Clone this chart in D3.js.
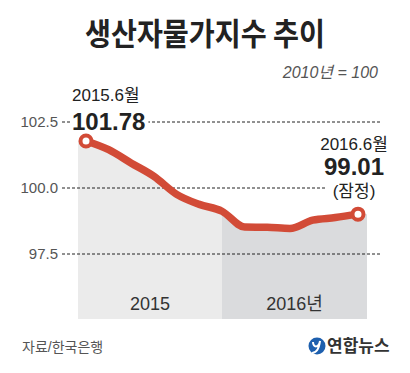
<!DOCTYPE html>
<html>
<head>
<meta charset="utf-8">
<script src="https://cdn.jsdelivr.net/npm/d3@7"></script>
<style>
  body { margin: 0; background: #fff; }
  text { font-family: "Liberation Sans", "Noto Sans CJK KR", sans-serif; }
</style>
</head>
<body>
<div id="chart"></div>
<script>
// data
var months = ["2015.6", "2015.7", "2015.8", "2015.9", "2015.10", "2015.11", "2015.12",
              "2016.1", "2016.2", "2016.3", "2016.4", "2016.5", "2016.6"];
var values = [101.78, 101.45, 100.94, 100.44, 99.76, 99.38, 99.12,
              98.52, 98.51, 98.47, 98.78, 98.88, 99.01];
var yTicks = [97.5, 100.0, 102.5];
var years = ["2015", "2016년"];

var svgWidth = 410;
var svgHeight = 373;

var svg = d3.select("#chart")
  .append("svg")
  .attr("width", svgWidth)
  .attr("height", svgHeight);

var panelLeft = 78, panelRight = 367, panelBottom = 319;

var xScale = d3.scaleLinear()
  .domain([0, months.length - 1])
  .range([86, 358]);

var yScale = d3.scaleLinear()
  .domain([97.5, 102.5])
  .range([254, 122]);

var splitX = xScale(6);

// title
svg.append("text")
  .attr("x", 205)
  .attr("y", 45)
  .attr("text-anchor", "middle")
  .attr("font-size", 31)
  .attr("font-weight", "bold")
  .attr("fill", "#222")
  .attr("textLength", 240)
  .attr("lengthAdjust", "spacingAndGlyphs")
  .style("font-family", "'Noto Sans CJK KR', sans-serif")
  .text("생산자물가지수 추이");

svg.append("text")
  .attr("x", 378)
  .attr("y", 78)
  .attr("text-anchor", "end")
  .attr("font-size", 16)
  .attr("font-style", "italic")
  .attr("fill", "#555")
  .text("2010년 = 100");

// area data, extended flat to the panel edges
var areaData = [{ px: panelLeft, v: values[0] }]
  .concat(values.map(function(v, i) { return { px: xScale(i), v: v }; }))
  .concat([{ px: panelRight, v: values[values.length - 1] }]);

var area = d3.area()
  .x(function(d) { return d.px; })
  .y0(panelBottom)
  .y1(function(d) { return yScale(d.v); })
  .curve(d3.curveMonotoneX);

var defs = svg.append("defs");
defs.append("clipPath").attr("id", "clip2015")
  .append("rect").attr("x", panelLeft).attr("y", 0)
  .attr("width", splitX - panelLeft).attr("height", svgHeight);
defs.append("clipPath").attr("id", "clip2016")
  .append("rect").attr("x", splitX).attr("y", 0)
  .attr("width", panelRight - splitX).attr("height", svgHeight);

svg.append("path")
  .datum(areaData)
  .attr("d", area)
  .attr("fill", "#ebebeb")
  .attr("clip-path", "url(#clip2015)");

svg.append("path")
  .datum(areaData)
  .attr("d", area)
  .attr("fill", "#dadbdd")
  .attr("clip-path", "url(#clip2016)");

// gridlines
var gridGroup = svg.append("g");
yTicks.forEach(function(t) {
  gridGroup.append("line")
    .attr("x1", 62)
    .attr("x2", t === 100.0 ? 327 : 380)
    .attr("y1", yScale(t))
    .attr("y2", yScale(t))
    .attr("stroke", "#222")
    .attr("stroke-width", 1)
    .attr("stroke-dasharray", "3,2");

  gridGroup.append("text")
    .attr("x", 58)
    .attr("y", yScale(t))
    .attr("dy", "0.35em")
    .attr("text-anchor", "end")
    .attr("font-size", 15)
    .attr("fill", "#555")
    .text(t.toFixed(1));
});

// year labels
svg.append("text")
  .attr("x", (panelLeft + splitX) / 2)
  .attr("y", 310)
  .attr("text-anchor", "middle")
  .attr("font-size", 18)
  .attr("fill", "#333")
  .text(years[0]);

svg.append("text")
  .attr("x", (splitX + panelRight) / 2)
  .attr("y", 310)
  .attr("text-anchor", "middle")
  .attr("font-size", 18)
  .attr("fill", "#333")
  .text(years[1]);

// line
var line = d3.line()
  .x(function(d, i) { return xScale(i); })
  .y(function(d) { return yScale(d); })
  .curve(d3.curveMonotoneX);

svg.append("path")
  .datum(values)
  .attr("d", line)
  .attr("fill", "none")
  .attr("stroke", "#d24b37")
  .attr("stroke-width", 7.5)
  .attr("stroke-linejoin", "round");

// end markers
[0, values.length - 1].forEach(function(i) {
  svg.append("circle")
    .attr("cx", xScale(i))
    .attr("cy", yScale(values[i]))
    .attr("r", 5.5)
    .attr("fill", "#fff")
    .attr("stroke", "#d24b37")
    .attr("stroke-width", 4);
});

// annotations
var first = svg.append("g");
first.append("text")
  .attr("x", 72).attr("y", 101)
  .attr("font-size", 17).attr("fill", "#222")
  .text(months[0] + "월");
var bigFirst = first.append("text")
  .attr("x", 72).attr("y", 130)
  .attr("font-size", 24).attr("font-weight", "bold").attr("fill", "#222")
  .text(values[0].toFixed(2));
var bb = bigFirst.node().getBBox();
first.insert("rect", "text:nth-child(2)")
  .attr("x", bb.x - 2).attr("y", yScale(102.5) - 2)
  .attr("width", bb.width + 5).attr("height", 4)
  .attr("fill", "#fff");

var lastX = xScale(values.length - 1) - 4;
svg.append("text")
  .attr("x", lastX).attr("y", 150)
  .attr("text-anchor", "middle")
  .attr("font-size", 17).attr("fill", "#222")
  .text(months[months.length - 1] + "월");
svg.append("text")
  .attr("x", lastX).attr("y", 175)
  .attr("text-anchor", "middle")
  .attr("font-size", 24).attr("font-weight", "bold").attr("fill", "#222")
  .text(values[values.length - 1].toFixed(2));
svg.append("text")
  .attr("x", lastX).attr("y", 197)
  .attr("text-anchor", "middle")
  .attr("font-size", 17).attr("fill", "#222")
  .text("(잠정)");

// footer
svg.append("text")
  .attr("x", 22).attr("y", 352)
  .attr("font-size", 14).attr("fill", "#555")
  .text("자료/한국은행");

var logo = svg.append("g").attr("transform", "translate(317,346)");
logo.append("circle")
  .attr("r", 8.5)
  .attr("fill", "#1d5fae");
logo.append("path")
  .attr("d", "M-4,-4 C-4,2 2,2 3,-5 M3,-5 C2,3 0,7 -5,7")
  .attr("fill", "none")
  .attr("stroke", "#fff")
  .attr("stroke-width", 2);
logo.append("text")
  .attr("x", 10).attr("y", 6)
  .attr("font-size", 17).attr("font-weight", "bold").attr("fill", "#333")
  .style("font-family", "'Noto Sans CJK KR', sans-serif")
  .text("연합뉴스");
</script>
</body>
</html>
